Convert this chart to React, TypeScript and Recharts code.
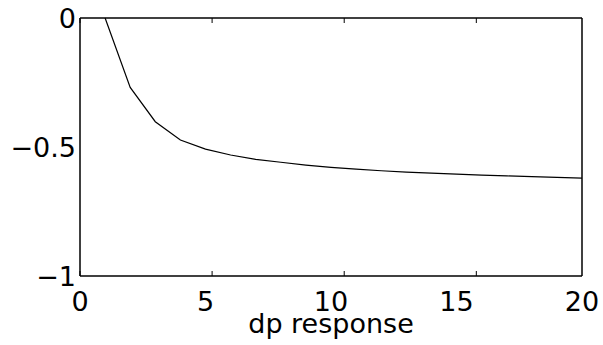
import React from 'react';
import { LineChart, Line, XAxis, YAxis } from 'recharts';

// values
const steps = [1, 2, 3, 4, 5, 6, 7, 8, 9, 10, 11, 12, 13, 14, 15, 16, 17, 18, 19, 20];
const response = [
  0, -0.269, -0.402, -0.473, -0.508, -0.531, -0.548, -0.559, -0.57, -0.579,
  -0.586, -0.592, -0.597, -0.601, -0.605, -0.609, -0.612, -0.615, -0.618, -0.621
];
const xTicks = [0, 5, 10, 15, 20];
const yTicks = [-1, -0.5, 0];

const data = steps.map((s, i) => ({ step: s, value: response[i] }));

const FONT = { fontFamily: '"DejaVu Sans", sans-serif', fontSize: 27, fill: '#000' };
const fmtY = (v: number) => String(v).replace('-', '\u2212');
const noLabel = () => <g />;

export default function App() {
  return (
    <div style={{ position: 'absolute', left: 0, top: 0, background: '#fff' }}>
      <LineChart width={603} height={345} data={data} margin={{ top: 18, right: 21, left: 0, bottom: 0 }}>
        {/* outer axes with labels */}
        <XAxis
          xAxisId="x"
          dataKey="step"
          type="number"
          domain={[0, 20]}
          ticks={xTicks}
          height={69}
          tickLine={false}
          tickSize={0}
          tickMargin={16}
          tick={FONT}
          axisLine={{ stroke: '#000', strokeWidth: 1.5 }}
          label={{ value: 'dp response', position: 'insideBottom', offset: 12, style: FONT }}
        />
        <YAxis
          yAxisId="y"
          type="number"
          domain={[-1, 0]}
          ticks={yTicks}
          width={80}
          tickLine={false}
          tickSize={0}
          tickMargin={4}
          tick={FONT}
          tickFormatter={fmtY}
          axisLine={{ stroke: '#000', strokeWidth: 1.5 }}
        />
        {/* inward tick marks and box frame */}
        <XAxis xAxisId="xb" type="number" domain={[0, 20]} ticks={xTicks} orientation="bottom" mirror
          tick={noLabel} tickSize={5} tickLine={{ stroke: '#000' }} axisLine={false} />
        <XAxis xAxisId="xt" type="number" domain={[0, 20]} ticks={xTicks} orientation="top" mirror
          tick={noLabel} tickSize={5} tickLine={{ stroke: '#000' }} axisLine={{ stroke: '#000', strokeWidth: 1.5 }} />
        <YAxis yAxisId="yl" type="number" domain={[-1, 0]} ticks={yTicks} orientation="left" mirror
          tick={noLabel} tickSize={5} tickLine={{ stroke: '#000' }} axisLine={false} />
        <YAxis yAxisId="yr" type="number" domain={[-1, 0]} ticks={yTicks} orientation="right" mirror
          tick={noLabel} tickSize={5} tickLine={{ stroke: '#000' }} axisLine={{ stroke: '#000', strokeWidth: 1.5 }} />
        <Line
          xAxisId="x"
          yAxisId="y"
          dataKey="value"
          stroke="#000"
          strokeWidth={1.2}
          dot={false}
          isAnimationActive={false}
        />
      </LineChart>
    </div>
  );
}
